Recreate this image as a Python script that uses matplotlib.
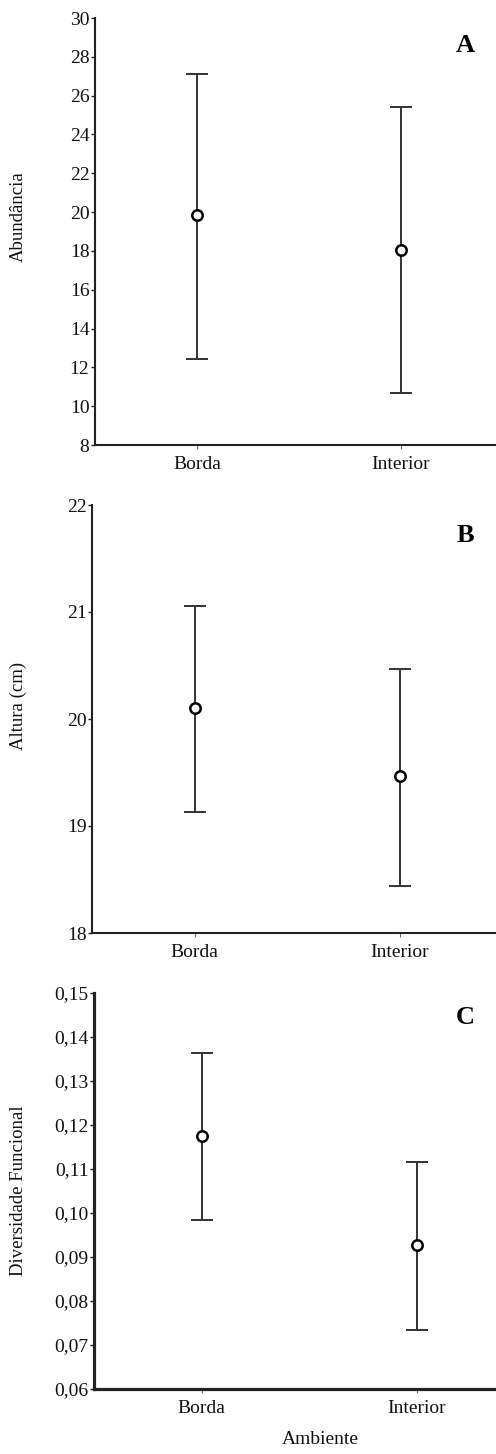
import matplotlib
matplotlib.use("Agg")
import matplotlib.pyplot as plt
from matplotlib.ticker import FuncFormatter

plt.rcParams["font.family"] = ["Liberation Serif", "DejaVu Serif"]

# categories
ambientes = ["Borda", "Interior"]

# panel A - abundance
abund_mean = [19.85, 18.05]
abund_low = [12.45, 10.7]
abund_high = [27.1, 25.4]

# panel B - height
altura_mean = [20.10, 19.47]
altura_low = [19.13, 18.44]
altura_high = [21.06, 20.47]

# panel C - functional diversity
fd_mean = [0.1175, 0.0928]
fd_low = [0.0983, 0.0734]
fd_high = [0.1364, 0.1115]

W, H = 496, 1454
fig = plt.figure(figsize=(W / 100, H / 100), dpi=100)


def px_axes(left, top, right, bottom):
    return fig.add_axes([left / W, 1 - bottom / H, (right - left) / W, (bottom - top) / H])


panels = [
    dict(rect=(95, 18, 503, 445), mean=abund_mean, low=abund_low, high=abund_high,
         ylim=(8, 30), ticks=list(range(8, 31, 2)), fmt=lambda v, p: f"{v:.0f}",
         ylabel="Abundância", ylab_y=217, letter="A", let_xy=(465, 46), lw=1.5),
    dict(rect=(92, 505, 502, 933), mean=altura_mean, low=altura_low, high=altura_high,
         ylim=(18, 22), ticks=[18, 19, 20, 21, 22], fmt=lambda v, p: f"{v:.0f}",
         ylabel="Altura (cm)", ylab_y=706, letter="B", let_xy=(465, 535), lw=1.5),
    dict(rect=(94, 993, 524, 1389), mean=fd_mean, low=fd_low, high=fd_high,
         ylim=(0.06, 0.15), ticks=[0.06 + 0.01 * i for i in range(10)],
         fmt=lambda v, p: f"{v:.2f}".replace(".", ","),
         ylabel="Diversidade Funcional", ylab_y=1191, letter="C", let_xy=(465, 1017), lw=2.3),
]

for pn in panels:
    ax = px_axes(*pn["rect"])
    x = range(len(ambientes))
    yerr = [[m - lo for m, lo in zip(pn["mean"], pn["low"])],
            [hi - m for m, hi in zip(pn["mean"], pn["high"])]]
    ax.errorbar(x, pn["mean"], yerr=yerr, fmt="none", ecolor="#333333",
                elinewidth=1.4, capsize=8, capthick=1.4, zorder=2)
    ax.plot(x, pn["mean"], "o", ms=7.5, mfc="white", mec="black", mew=1.8, zorder=3)

    ax.set_xlim(-0.5, 1.5)
    ax.set_ylim(*pn["ylim"])
    ax.set_yticks(pn["ticks"])
    ax.yaxis.set_major_formatter(FuncFormatter(pn["fmt"]))
    ax.set_xticks(list(x))
    ax.set_xticklabels(ambientes)

    for s in ["top", "right"]:
        ax.spines[s].set_visible(False)
    for s in ["left", "bottom"]:
        ax.spines[s].set_linewidth(pn["lw"])
        ax.spines[s].set_color("#222222")
    ax.tick_params(axis="y", labelsize=14, length=3, width=1, pad=1, colors="#222222",
                   labelcolor="#111111")
    ax.tick_params(axis="x", labelsize=14, length=3, width=0.8, pad=5, colors="#666666",
                   labelcolor="#111111")

    ax.set_ylabel(pn["ylabel"], fontsize=13.5, color="#111111")
    ax.yaxis.set_label_coords(27 / W, 1 - pn["ylab_y"] / H, transform=fig.transFigure)

    fig.text(pn["let_xy"][0] / W, 1 - pn["let_xy"][1] / H, pn["letter"],
             fontsize=19, fontweight="bold", ha="center", va="center")

fig.text(320 / W, 1 - 1440 / H, "Ambiente", fontsize=14, ha="center", va="center",
         color="#111111")

fig.savefig("out.png", dpi=100)
